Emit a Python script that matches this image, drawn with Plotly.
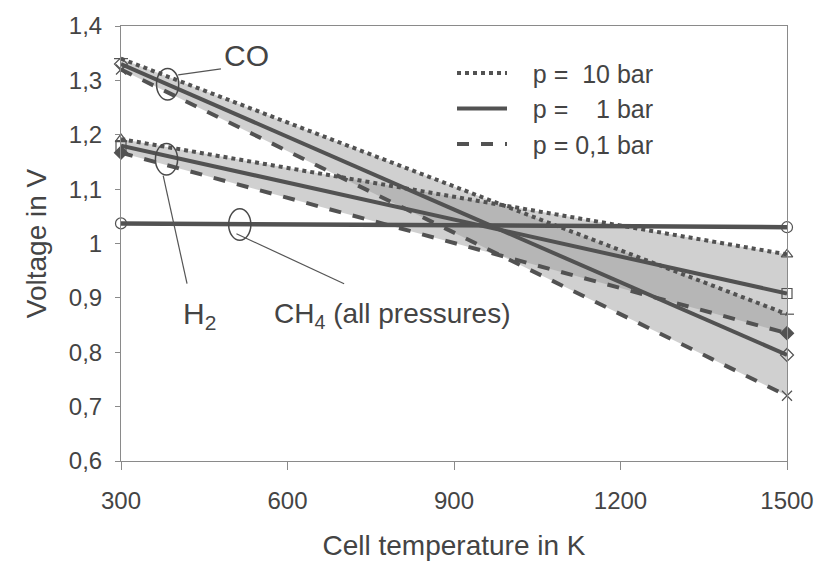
import plotly.graph_objects as go

# ---------------- data ----------------
temperature = [300, 1500]

co_10bar = [1.340, 0.870]
co_1bar = [1.330, 0.795]
co_01bar = [1.320, 0.720]

h2_10bar = [1.192, 0.980]
h2_1bar = [1.180, 0.908]
h2_01bar = [1.167, 0.835]

ch4_all = [1.037, 1.030]

x_ticks = [300, 600, 900, 1200, 1500]
y_ticks = [0.6, 0.7, 0.8, 0.9, 1.0, 1.1, 1.2, 1.3, 1.4]
y_ticktext = ["0,6", "0,7", "0,8", "0,9", "1", "1,1", "1,2", "1,3", "1,4"]

NB = "\u00a0"
legend_names = [NB * 3 + "p =" + NB * 2 + "10 bar",
                NB * 3 + "p =" + NB * 4 + "1 bar",
                NB * 3 + "p = 0,1 bar"]

# ---------------- styles ----------------
LINE = "#525252"
FILL = "rgba(150,150,150,0.45)"
AX = "#8a8a8a"
TXT = "#444444"
FONT = "Liberation Sans, Arial, sans-serif"
dash_for = {"10": "dot", "1": "solid", "01": "dash"}

fig = go.Figure()

# shaded bands between 0.1 bar and 10 bar
for low, high in [(co_01bar, co_10bar), (h2_01bar, h2_10bar)]:
    fig.add_trace(go.Scatter(x=temperature, y=low, mode="lines",
                             line=dict(width=0), showlegend=False, hoverinfo="skip"))
    fig.add_trace(go.Scatter(x=temperature, y=high, mode="lines", fill="tonexty",
                             fillcolor=FILL, line=dict(width=0), showlegend=False,
                             hoverinfo="skip"))

series = [
    (h2_10bar, "10", "triangle-up-open"),
    (h2_1bar, "1", "square-open"),
    (h2_01bar, "01", "diamond"),
    (co_10bar, "10", "line-ew-open"),
    (co_1bar, "1", "diamond-open"),
    (co_01bar, "01", "x-thin-open"),
]
for vals, p, sym in series:
    fig.add_trace(go.Scatter(
        x=temperature, y=vals, mode="lines+markers", cliponaxis=False,
        line=dict(color=LINE, width=4, dash=dash_for[p]),
        marker=dict(symbol=sym, size=10, color=LINE, line=dict(color=LINE, width=1.2)),
        showlegend=False))

fig.add_trace(go.Scatter(
    x=temperature, y=ch4_all, mode="lines+markers", cliponaxis=False,
    line=dict(color=LINE, width=4.5),
    marker=dict(symbol="circle-open", size=11, color=LINE, line=dict(color=LINE, width=1.2)),
    showlegend=False))

# legend entries
for name, p in zip(legend_names, ["10", "1", "01"]):
    fig.add_trace(go.Scatter(x=[None], y=[None], mode="lines", name=name,
                             line=dict(color=LINE, width=4, dash=dash_for[p])))

# ---------------- annotations ----------------
ell = [(384, 1.293), (382, 1.155), (514, 1.035)]
hw, hh = 20, 0.029
shapes = []
for cx, cy in ell:
    shapes.append(dict(type="circle", xref="x", yref="y", x0=cx - hw, x1=cx + hw,
                       y0=cy - hh, y1=cy + hh, line=dict(color="#4a4a4a", width=1.5)))
leaders = [((403, 1.310), (480, 1.321)), ((376, 1.125), (419, 0.926)),
           ((508, 1.018), (702, 0.926))]
for (ax0, ay0), (ax1, ay1) in leaders:
    shapes.append(dict(type="line", xref="x", yref="y", x0=ax0, y0=ay0, x1=ax1, y1=ay1,
                       line=dict(color="#555555", width=1.2)))

annotations = [
    dict(x=526, y=1.346, text="CO", showarrow=False, xanchor="center", yanchor="middle",
         font=dict(size=30, color=TXT, family=FONT)),
    dict(x=442, y=0.868, text="H<sub>2</sub>", showarrow=False, xanchor="center",
         yanchor="middle", font=dict(size=30, color=TXT, family=FONT)),
    dict(x=790, y=0.868, text="CH<sub>4</sub> (all pressures)", showarrow=False,
         xanchor="center", yanchor="middle", font=dict(size=28, color=TXT, family=FONT)),
]

fig.update_layout(
    width=826, height=567,
    margin=dict(l=121, r=30, t=22, b=106),
    paper_bgcolor="white", plot_bgcolor="white",
    font=dict(family=FONT, color=TXT),
    shapes=shapes, annotations=annotations,
    legend=dict(x=0.497, y=0.944, xanchor="left", yanchor="top", traceorder="normal",
                bgcolor="rgba(0,0,0,0)", font=dict(size=25, color=TXT, family=FONT),
                itemwidth=50, tracegroupgap=0),
    xaxis=dict(range=[300, 1500], tickvals=x_ticks, ticks="outside", ticklen=8,
               tickcolor=AX, showline=True, linecolor=AX, linewidth=1, mirror=True,
               showgrid=False, zeroline=False, tickfont=dict(size=24, color=TXT),
               ticklabelstandoff=10,
               title=dict(text="Cell temperature in K", font=dict(size=28, color=TXT),
                          standoff=22)),
    yaxis=dict(range=[0.6, 1.4], tickvals=y_ticks, ticktext=y_ticktext, ticks="outside",
               ticklen=5, tickcolor=AX, showline=True, linecolor=AX, linewidth=1,
               mirror=True, showgrid=False, zeroline=False,
               tickfont=dict(size=24, color=TXT), ticklabelstandoff=8,
               title=dict(text="Voltage in V", font=dict(size=28, color=TXT), standoff=14)),
)

fig.write_html("out.html")
